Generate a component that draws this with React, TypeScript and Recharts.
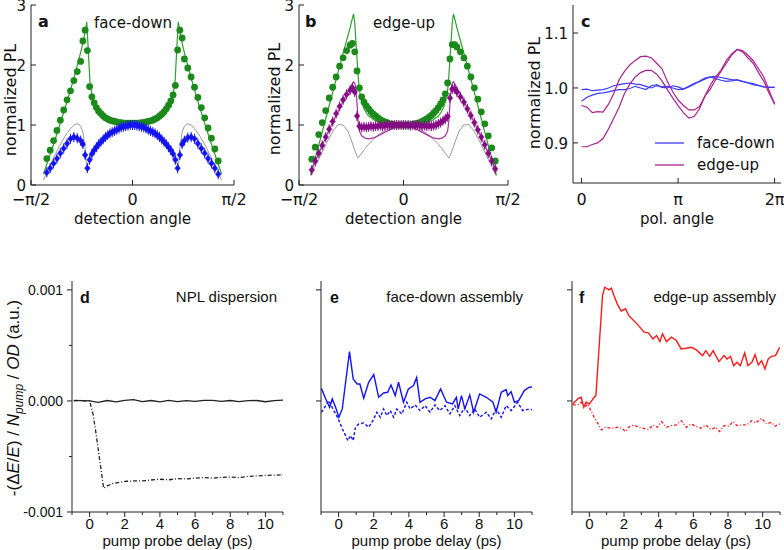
import { ComposedChart, Line, Scatter, XAxis, YAxis } from "recharts";

const TOP_FONT = "'DejaVu Sans', Verdana, sans-serif";
const BOT_FONT = "'Liberation Sans', Arial, sans-serif";
const AX = { stroke: "#222", strokeWidth: 1 };

// ---------- panel a (face-down), detection angle in degrees ----------
const aDotAngles = [-76, -73, -70, -67, -64, -61, -58, -55, -52, -49, -46, -44, -42, -40, -38, -36, -34, -32, -30, -28, -26, -24, -22, -20, -18, -16, -14, -12, -10, -8, -6, -4, -2, 0, 2, 4, 6, 8, 10, 12, 14, 16, 18, 20, 22, 24, 26, 28, 30, 32, 34, 36, 38, 40, 42, 44, 46, 49, 52, 55, 58, 61, 64, 67, 70, 73, 76];
const aGreenDots = [0.44, 0.58, 0.74, 0.91, 1.08, 1.25, 1.42, 1.57, 1.74, 1.89, 2.06, 2.40, 2.58, 2.24, 1.64, 1.47, 1.37, 1.29, 1.23, 1.19, 1.15, 1.12, 1.10, 1.08, 1.07, 1.06, 1.05, 1.04, 1.04, 1.03, 1.03, 1.03, 1.03, 1.03, 1.03, 1.03, 1.03, 1.04, 1.04, 1.05, 1.06, 1.07, 1.08, 1.10, 1.12, 1.15, 1.18, 1.22, 1.27, 1.33, 1.40, 1.50, 1.66, 2.25, 2.58, 2.45, 2.10, 1.95, 1.80, 1.63, 1.46, 1.29, 1.12, 0.95, 0.78, 0.60, 0.40];
const aBlueDots = [0.21, 0.28, 0.36, 0.44, 0.53, 0.61, 0.69, 0.77, 0.80, 0.78, 0.74, 0.68, 0.50, 0.28, 0.42, 0.52, 0.58, 0.63, 0.68, 0.72, 0.76, 0.80, 0.83, 0.86, 0.88, 0.90, 0.92, 0.94, 0.96, 0.97, 0.98, 0.99, 1.00, 1.00, 1.00, 0.99, 0.98, 0.97, 0.96, 0.94, 0.92, 0.90, 0.88, 0.86, 0.83, 0.80, 0.76, 0.72, 0.68, 0.63, 0.58, 0.52, 0.42, 0.28, 0.50, 0.68, 0.74, 0.79, 0.80, 0.77, 0.69, 0.61, 0.53, 0.44, 0.36, 0.28, 0.18];
const aGreenFitX = [-79, -75, -70, -65, -60, -55, -50, -45, -42.5, -40.6, -39.2, -37.7, -36, -34.8, -32, -28.8, -25, -21, -17, -12, -6, 0, 6, 12, 17, 21, 25, 28.8, 32, 34.8, 36, 37.7, 39.2, 40.6, 42.5, 45, 50, 55, 60, 65, 70, 75, 79];
const aGreenFitY = [0.18, 0.40, 0.68, 0.97, 1.27, 1.58, 1.92, 2.28, 2.50, 2.72, 2.25, 1.70, 1.52, 1.42, 1.30, 1.22, 1.15, 1.11, 1.08, 1.05, 1.03, 1.03, 1.03, 1.05, 1.08, 1.11, 1.15, 1.22, 1.30, 1.42, 1.52, 1.70, 2.25, 2.72, 2.50, 2.28, 1.92, 1.58, 1.27, 0.97, 0.68, 0.40, 0.18];
const aGrayFitX = [-79, -75, -70, -65, -60, -55, -51, -48.5, -46, -44, -42, -40.6, -39, -37, -35, -32, -28, -24, -20, -15, -10, -5, 0, 5, 10, 15, 20, 24, 28, 32, 35, 37, 39, 40.6, 42, 44, 46, 48.5, 51, 55, 60, 65, 70, 75, 79];
const aGrayFitY = [0.08, 0.25, 0.45, 0.64, 0.81, 0.94, 1.01, 1.02, 0.98, 0.88, 0.62, 0.28, 0.40, 0.50, 0.57, 0.65, 0.73, 0.80, 0.86, 0.92, 0.96, 0.99, 1.0, 0.99, 0.96, 0.92, 0.86, 0.80, 0.73, 0.65, 0.57, 0.50, 0.40, 0.28, 0.62, 0.88, 0.98, 1.02, 1.01, 0.94, 0.81, 0.64, 0.45, 0.25, 0.08];

// ---------- panel b (edge-up) ----------
const bDotAngles = [-79, -76, -73, -70, -67, -64, -61, -58, -55, -52, -49, -46, -44, -42, -40, -38, -36, -34, -32, -30, -28, -26, -24, -22, -20, -18, -16, -14, -12, -10, -8, -6, -4, -2, 0, 2, 4, 6, 8, 10, 12, 14, 16, 18, 20, 22, 24, 26, 28, 30, 32, 34, 36, 38, 40, 42, 44, 46, 49, 52, 55, 58, 61, 64, 67, 70, 73, 76, 79];
const bGreenDots = [0.43, 0.63, 0.84, 1.04, 1.24, 1.45, 1.63, 1.80, 1.98, 2.12, 2.24, 2.33, 2.36, 2.22, 1.90, 1.62, 1.47, 1.38, 1.32, 1.27, 1.22, 1.18, 1.15, 1.12, 1.09, 1.07, 1.05, 1.04, 1.02, 1.01, 1.0, 1.0, 1.0, 1.0, 1.0, 1.0, 1.0, 1.0, 1.01, 1.02, 1.03, 1.04, 1.06, 1.08, 1.10, 1.13, 1.16, 1.20, 1.24, 1.29, 1.35, 1.42, 1.52, 1.70, 2.10, 2.34, 2.34, 2.30, 2.22, 2.12, 1.98, 1.80, 1.62, 1.43, 1.22, 1.02, 0.82, 0.62, 0.40];
const bPurpleDots = [0.25, 0.40, 0.53, 0.66, 0.80, 0.93, 1.06, 1.19, 1.31, 1.42, 1.51, 1.58, 1.62, 1.55, 1.15, 0.98, 0.96, 0.97, 0.96, 0.97, 0.98, 0.97, 0.98, 0.98, 0.99, 0.98, 0.99, 1.0, 0.99, 1.0, 1.0, 1.0, 1.0, 1.0, 1.0, 1.0, 1.0, 0.99, 1.0, 0.99, 1.0, 0.99, 0.98, 0.99, 0.98, 0.99, 0.98, 0.99, 1.0, 1.02, 1.04, 1.07, 1.10, 1.14, 1.45, 1.60, 1.60, 1.55, 1.47, 1.38, 1.27, 1.16, 1.04, 0.92, 0.80, 0.67, 0.53, 0.40, 0.27];
const bGreenFitX = [-80, -75, -70, -65, -60, -55, -50, -46, -44, -43, -42, -41, -40, -39, -38, -36, -34, -32, -30, -25, -20, -15, -10, -5, 0, 5, 10, 15, 20, 25, 30, 32, 34, 36, 38, 39, 40, 41, 42, 43, 44, 46, 50, 55, 60, 65, 70, 75, 80];
const bGreenFitY = [0.17, 0.52, 0.88, 1.25, 1.62, 1.98, 2.34, 2.62, 2.78, 2.85, 2.70, 2.40, 2.10, 1.80, 1.58, 1.38, 1.27, 1.20, 1.15, 1.08, 1.04, 1.02, 1.01, 1.0, 1.0, 1.0, 1.01, 1.02, 1.04, 1.08, 1.15, 1.20, 1.27, 1.38, 1.58, 1.80, 2.10, 2.40, 2.70, 2.85, 2.78, 2.62, 2.34, 1.98, 1.62, 1.25, 0.88, 0.52, 0.17];
const bPurpleFitX = [-80, -75, -70, -65, -60, -55, -50, -46, -44, -43, -42, -41, -40, -39, -38, -36, -33, -30, -25, -20, -15, -10, -5, 0, 5, 10, 15, 20, 25, 30, 33, 36, 38, 39, 40, 41, 42, 43, 44, 46, 50, 55, 60, 65, 70, 75, 80];
const bPurpleFitY = [0.22, 0.44, 0.66, 0.88, 1.08, 1.28, 1.47, 1.62, 1.69, 1.72, 1.70, 1.60, 1.35, 1.05, 0.90, 0.82, 0.78, 0.77, 0.79, 0.84, 0.89, 0.94, 0.98, 1.0, 0.98, 0.94, 0.89, 0.84, 0.79, 0.77, 0.78, 0.82, 0.90, 1.05, 1.35, 1.60, 1.70, 1.72, 1.69, 1.62, 1.47, 1.28, 1.08, 0.88, 0.66, 0.44, 0.22];
const bGrayFitX = [-80, -75, -70, -65, -60, -56, -52, -48, -45, -42, -40, -39, -38, -36, -33, -30, -25, -20, -15, -10, -5, 0, 5, 10, 15, 20, 25, 30, 33, 36, 38, 39, 40, 42, 45, 48, 52, 56, 60, 65, 70, 75, 80];
const bGrayFitY = [0.15, 0.35, 0.55, 0.75, 0.92, 1.01, 1.0, 0.90, 0.75, 0.58, 0.48, 0.45, 0.48, 0.53, 0.61, 0.68, 0.78, 0.86, 0.92, 0.96, 0.99, 1.0, 0.99, 0.96, 0.92, 0.86, 0.78, 0.68, 0.61, 0.53, 0.48, 0.45, 0.48, 0.58, 0.75, 0.90, 1.0, 1.01, 0.92, 0.75, 0.55, 0.35, 0.15];

// ---------- panel c, polarisation angle in degrees ----------
const polAngles = [0, 10, 20, 30, 40, 50, 60, 70, 80, 90, 100, 110, 120, 130, 140, 150, 160, 170, 180, 190, 200, 210, 220, 230, 240, 250, 260, 270, 280, 290, 300, 310, 320, 330, 340, 350, 360];
const cBlue1 = [0.997, 0.998, 0.995, 0.996, 0.997, 1.0, 1.004, 1.006, 1.008, 1.009, 1.007, 1.006, 1.003, 1.0, 1.004, 1.002, 1.003, 1.0, 0.997, 0.998, 1.003, 1.008, 1.012, 1.018, 1.02, 1.017, 1.014, 1.012, 1.013, 1.015, 1.012, 1.009, 1.006, 1.004, 1.002, 1.001, 1.001];
const cBlue2 = [0.976, 0.983, 0.987, 0.99, 0.991, 0.993, 0.995, 0.997, 0.997, 0.999, 1.003, 1.0, 0.997, 1.004, 1.006, 1.001, 1.0, 1.004, 1.002, 0.998, 1.002, 1.007, 1.012, 1.016, 1.02, 1.021, 1.019, 1.017, 1.015, 1.014, 1.012, 1.01, 1.008, 1.005, 1.002, 1.001, 1.001];
const cPurple1 = [0.893, 0.893, 0.897, 0.900, 0.908, 0.925, 0.945, 0.965, 0.99, 1.007, 1.02, 1.028, 1.032, 1.032, 1.025, 1.013, 0.997, 0.982, 0.968, 0.955, 0.945, 0.948, 0.962, 0.985, 1.005, 1.02, 1.032, 1.05, 1.062, 1.07, 1.066, 1.055, 1.045, 1.028, 1.012, 0.99, 0.972];
const cPurple2 = [0.968, 0.965, 0.955, 0.957, 0.956, 0.97, 0.99, 1.015, 1.03, 1.042, 1.05, 1.057, 1.058, 1.055, 1.045, 1.035, 1.012, 0.993, 0.978, 0.968, 0.96, 0.96, 0.966, 0.985, 0.998, 1.015, 1.03, 1.045, 1.06, 1.07, 1.068, 1.06, 1.05, 1.035, 1.02, 0.995, 0.970];

// ---------- panels d-f, delay in ps, signal in units of 1e-3 ----------
const dSolidT = [-0.9, -0.5, 0, 0.5, 1, 1.5, 2, 2.5, 3, 3.5, 4, 4.5, 5, 5.5, 6, 6.5, 7, 7.5, 8, 8.5, 9, 9.5, 10, 10.5, 11];
const dSolid = [0.005, 0.003, 0, -0.012, 0.004, -0.008, 0.006, 0.012, -0.006, 0.004, -0.008, 0.005, -0.006, 0.003, -0.004, 0.005, 0.006, -0.003, 0.004, -0.006, 0.003, 0.004, -0.007, 0.002, 0.008];
const dDashT = [-0.9, -0.6, -0.3, 0, 0.2, 0.4, 0.6, 0.8, 1.0, 1.3, 1.6, 2, 2.5, 3, 3.5, 4, 4.5, 5, 5.5, 6, 6.5, 7, 7.5, 8, 8.5, 9, 9.5, 10, 10.5, 11];
const dDash = [0.0, 0.005, 0.0, 0.0, -0.12, -0.33, -0.56, -0.785, -0.765, -0.745, -0.735, -0.725, -0.72, -0.72, -0.712, -0.705, -0.71, -0.70, -0.702, -0.695, -0.69, -0.695, -0.688, -0.685, -0.69, -0.68, -0.675, -0.67, -0.668, -0.665];
const eSolidT = [-0.98, -0.73, -0.51, -0.36, -0.17, 0.02, 0.21, 0.40, 0.62, 0.83, 1.05, 1.21, 1.43, 1.71, 2.0, 2.28, 2.56, 2.79, 2.98, 3.22, 3.41, 3.69, 3.97, 4.26, 4.44, 4.63, 4.92, 5.20, 5.48, 5.80, 6.14, 6.48, 6.70, 6.80, 6.99, 7.18, 7.46, 7.68, 8.02, 8.40, 8.78, 8.96, 9.25, 9.53, 9.62, 9.81, 10.0, 10.24, 10.56, 10.85, 11.0];
const eSolid = [0.114, 0.018, -0.057, 0.018, -0.057, -0.147, -0.072, 0.168, 0.444, 0.198, 0.153, 0.153, 0.024, 0.168, 0.237, 0.033, 0.072, 0.078, 0.144, 0.048, 0.168, -0.012, 0.108, 0.138, 0.21, -0.012, 0.018, 0.033, 0.003, 0.108, -0.012, -0.027, 0.033, -0.072, 0.048, -0.072, 0.054, -0.102, 0.063, 0.033, -0.012, -0.102, 0.078, 0.102, 0.048, 0.084, -0.012, 0.003, 0.093, 0.123, 0.125];
const eDashT = [-0.98, -0.73, -0.55, -0.36, -0.11, 0.02, 0.21, 0.40, 0.53, 0.68, 0.83, 0.96, 1.15, 1.43, 1.71, 1.90, 2.18, 2.37, 2.56, 2.75, 2.94, 3.13, 3.31, 3.60, 3.88, 4.07, 4.35, 4.63, 4.92, 5.20, 5.48, 5.76, 6.05, 6.33, 6.61, 6.89, 7.18, 7.46, 7.74, 8.02, 8.40, 8.68, 8.96, 9.25, 9.53, 9.81, 10.19, 10.47, 10.85, 11.0];
const eDash = [-0.102, -0.042, 0.003, -0.06, -0.132, -0.177, -0.25, -0.312, -0.357, -0.312, -0.357, -0.237, -0.207, -0.198, -0.237, -0.192, -0.102, -0.147, -0.072, -0.132, -0.087, -0.147, -0.072, -0.117, -0.012, -0.072, -0.036, -0.087, -0.042, -0.102, -0.036, -0.087, -0.042, -0.117, -0.042, -0.132, -0.057, -0.132, -0.072, -0.147, -0.102, -0.162, -0.072, -0.147, -0.042, -0.087, -0.012, -0.087, -0.072, -0.08];
const fSolidT = [-0.95, -0.76, -0.63, -0.47, -0.32, -0.19, 0.0, 0.28, 0.38, 0.76, 0.89, 1.14, 1.27, 1.42, 1.61, 1.84, 2.09, 2.27, 2.37, 2.75, 3.16, 3.41, 3.67, 3.88, 4.07, 4.22, 4.45, 4.73, 5.02, 5.30, 5.59, 5.87, 6.16, 6.53, 6.72, 6.95, 7.14, 7.48, 7.77, 7.95, 8.14, 8.33, 8.52, 8.71, 8.96, 9.15, 9.38, 9.56, 9.75, 9.94, 10.13, 10.32, 10.51, 10.74, 10.98];
const fSolid = [-0.027, 0.003, 0.024, 0.033, -0.057, -0.012, -0.027, 0.033, 0.05, 0.949, 1.024, 1.0, 1.015, 0.949, 0.874, 0.81, 0.83, 0.77, 0.754, 0.694, 0.619, 0.613, 0.559, 0.589, 0.535, 0.604, 0.535, 0.574, 0.544, 0.468, 0.474, 0.483, 0.462, 0.408, 0.453, 0.402, 0.453, 0.354, 0.408, 0.378, 0.402, 0.318, 0.348, 0.318, 0.432, 0.318, 0.348, 0.417, 0.324, 0.363, 0.288, 0.378, 0.402, 0.408, 0.483];
const fDashT = [-0.95, -0.66, -0.47, -0.25, -0.09, 0.09, 0.28, 0.51, 0.70, 0.95, 1.23, 1.61, 1.89, 2.08, 2.27, 2.56, 2.84, 3.13, 3.41, 3.69, 3.92, 4.17, 4.45, 4.73, 5.02, 5.30, 5.59, 5.87, 6.16, 6.44, 6.72, 7.01, 7.29, 7.52, 7.77, 8.05, 8.28, 8.52, 8.81, 9.09, 9.38, 9.60, 9.94, 10.23, 10.51, 10.70, 10.98];
const fDash = [-0.036, -0.036, -0.012, -0.057, -0.027, -0.087, -0.147, -0.207, -0.261, -0.237, -0.246, -0.237, -0.246, -0.276, -0.237, -0.216, -0.237, -0.246, -0.258, -0.216, -0.237, -0.186, -0.237, -0.222, -0.216, -0.177, -0.237, -0.207, -0.228, -0.246, -0.216, -0.258, -0.237, -0.276, -0.222, -0.228, -0.186, -0.222, -0.216, -0.216, -0.177, -0.198, -0.156, -0.207, -0.192, -0.228, -0.207];

// ---------- ticks ----------
const detTicks = [-90, 0, 90];
const detLabels = ["\u2212\u03c0/2", "0", "\u03c0/2"];
const polTicks = [0, 180, 360];
const polLabels = ["0", "\u03c0", "2\u03c0"];
const plTicks = [0, 1, 2, 3];
const cTicks = [0.9, 1.0, 1.1];
const delayTicks = [-1, 0, 1, 2, 3, 4, 5, 6, 7, 8, 9, 10, 11];
const signalTicks = [-1, -0.5, 0, 0.5, 1];

const pts = (xs: number[], ys: number[]) => xs.map((x, i) => ({ x, y: ys[i] }));

type Side = "left" | "right" | "top" | "bottom";
// tick mark drawn by hand: len > 0 points into the plot, len < 0 points out
const makeTick =
  (side: Side, len: (v: number) => number, label: (v: number) => string | null, font: string, size: number, gap: number, vShift = "0.36em") =>
  (p: any) => {
    const { x, y, payload } = p;
    const v = payload.value;
    const L = len(v);
    const lab = label(v);
    let ln;
    let tx = x;
    let ty = y;
    let anchor: any = "middle";
    let dy = "0";
    if (side === "left") {
      ln = <line x1={x} y1={y} x2={x + L} y2={y} />;
      tx = x - gap;
      anchor = "end";
      dy = vShift;
    } else if (side === "right") {
      ln = <line x1={x} y1={y} x2={x - L} y2={y} />;
      tx = x + gap;
      anchor = "start";
      dy = vShift;
    } else if (side === "bottom") {
      ln = <line x1={x} y1={y} x2={x} y2={y - L} />;
      ty = y + gap;
    } else {
      ln = <line x1={x} y1={y} x2={x} y2={y + L} />;
      ty = y - gap;
    }
    return (
      <g stroke="#222" strokeWidth={1}>
        {ln}
        {lab != null && (
          <text x={tx} y={ty} dy={dy} textAnchor={anchor} stroke="none" fill="#111" fontFamily={font} fontSize={size}>
            {lab}
          </text>
        )}
      </g>
    );
  };

const none = () => null;
const inward = () => 5;

const topAxes = (
  xDomain: number[], xTicks: number[], xLabels: string[], xHeight: number, xGap: number,
  yDomain: number[], yTicks: number[], yLabel: (v: number) => string, yWidth: number
) => [
  <XAxis key="xb" type="number" dataKey="x" domain={xDomain} ticks={xTicks} allowDataOverflow interval={0}
    height={xHeight} tickSize={0} tickMargin={0} tickLine={false} axisLine={AX}
    tick={makeTick("bottom", inward, (v) => xLabels[xTicks.indexOf(v)] ?? null, TOP_FONT, 16, xGap)} />,
  <XAxis key="xt" xAxisId="t" orientation="top" type="number" domain={xDomain} ticks={xTicks} allowDataOverflow interval={0}
    height={0} tickSize={0} tickMargin={0} tickLine={false} axisLine={AX} tick={makeTick("top", inward, none, TOP_FONT, 16, 0)} />,
  <YAxis key="yl" type="number" dataKey="y" domain={yDomain} ticks={yTicks} allowDataOverflow interval={0}
    width={yWidth} tickSize={0} tickMargin={0} tickLine={false} axisLine={AX}
    tick={makeTick("left", inward, yLabel, TOP_FONT, 15, 5, "0.4em")} />,
  <YAxis key="yr" yAxisId="r" orientation="right" type="number" domain={yDomain} ticks={yTicks} allowDataOverflow interval={0}
    width={0} tickSize={0} tickMargin={0} tickLine={false} axisLine={AX} tick={makeTick("right", inward, none, TOP_FONT, 16, 0)} />,
];

const botAxes = (yWidth: number, yTicks: number[], labelled: boolean) => [
  <XAxis key="xb" type="number" dataKey="x" domain={[-1, 11]} ticks={delayTicks} allowDataOverflow interval={0}
    height={38} tickSize={0} tickMargin={0} tickLine={false} axisLine={AX}
    tick={makeTick("bottom", (v) => (v % 2 === 0 ? -5 : -3), (v) => (v >= 0 && v % 2 === 0 ? String(v) : null), BOT_FONT, 15, 17)} />,
  <XAxis key="xt" xAxisId="t" orientation="top" type="number" domain={[-1, 11]} allowDataOverflow height={0}
    tick={false} tickLine={false} axisLine={AX} />,
  <YAxis key="yl" type="number" dataKey="y" domain={[-1, 1.08]} ticks={yTicks} allowDataOverflow interval={0}
    width={yWidth} tickSize={0} tickMargin={0} tickLine={false} axisLine={AX}
    tick={makeTick("left", (v) => (Number.isInteger(v) ? -5 : -3), (v) => (labelled && Number.isInteger(v) ? (v / 1000).toFixed(3) : null), BOT_FONT, 14, 9)} />,
  <YAxis key="yr" yAxisId="r" orientation="right" type="number" domain={[-1, 1.08]} allowDataOverflow width={0}
    tick={false} tickLine={false} axisLine={AX} />,
];

const dotShape = (color: string) => (p: any) => <circle cx={p.cx} cy={p.cy} r={3.4} fill={color} />;
const diamondShape = (color: string) => (p: any) => (
  <g fill={color} stroke={color}>
    <path d={`M${p.cx},${p.cy - 3.4}L${p.cx + 2.8},${p.cy}L${p.cx},${p.cy + 3.4}L${p.cx - 2.8},${p.cy}Z`} strokeWidth={0.5} />
    <line x1={p.cx} x2={p.cx} y1={p.cy - 5} y2={p.cy + 5} strokeWidth={1} />
  </g>
);

const GREEN = "#1b8a1b";
const GREEN_FIT = "#2e9e2e";
const BLUE = "#1414f0";
const GRAY = "#9a9a9a";
const PURPLE = "#860c86";
const PURPLE_FIT = "#a8329f";
const C_BLUE = "#3c3cff";
const C_PURPLE = "#a8228f";
const RED = "#ff1a1a";

const fitLine = (key: string, data: any[], color: string, w = 1.2, dash?: string) => (
  <Line key={key} data={data} dataKey="y" type="linear" stroke={color} strokeWidth={w} strokeDasharray={dash}
    dot={false} activeDot={false} isAnimationActive={false} />
);

const pos = (left: number, top: number) => ({ position: "absolute" as const, left, top });

export default function App() {
  const plLabel = (v: number) => String(v);
  const cLabel = (v: number) => v.toFixed(1);
  return (
    <div style={{ position: "absolute", left: 0, top: 0, width: 784, height: 550, background: "#fff", overflow: "hidden" }}>
      {/* a */}
      <div style={pos(0, -10)}>
        <ComposedChart width={262} height={240} margin={{ top: 15, right: 28, bottom: 0, left: 0 }}>
          {topAxes([-90, 90], detTicks, detLabels, 45, 20, [0, 3], plTicks, plLabel, 31)}
          {fitLine("gray", pts(aGrayFitX, aGrayFitY), GRAY, 1)}
          <Scatter data={pts(aDotAngles, aGreenDots)} dataKey="y" fill={GREEN} shape={dotShape(GREEN)} isAnimationActive={false} />
          <Scatter data={pts(aDotAngles, aBlueDots)} dataKey="y" fill={BLUE} shape={diamondShape(BLUE)} isAnimationActive={false} />
          {fitLine("green", pts(aGreenFitX, aGreenFitY), GREEN_FIT, 1.2)}
        </ComposedChart>
      </div>
      {/* b */}
      <div style={pos(265, -10)}>
        <ComposedChart width={270} height={240} margin={{ top: 15, right: 27, bottom: 0, left: 0 }}>
          {topAxes([-90, 90], detTicks, detLabels, 45, 20, [0, 3], plTicks, plLabel, 34)}
          {fitLine("gray", pts(bGrayFitX, bGrayFitY), GRAY, 1)}
          <Scatter data={pts(bDotAngles, bGreenDots)} dataKey="y" fill={GREEN} shape={dotShape(GREEN)} isAnimationActive={false} />
          <Scatter data={pts(bDotAngles, bPurpleDots)} dataKey="y" fill={PURPLE} shape={diamondShape(PURPLE)} isAnimationActive={false} />
          {fitLine("green", pts(bGreenFitX, bGreenFitY), GREEN_FIT, 1.2)}
          {fitLine("purple", pts(bPurpleFitX, bPurpleFitY), PURPLE_FIT, 1.2)}
        </ComposedChart>
      </div>
      {/* c */}
      <div style={pos(525, -10)}>
        <ComposedChart width={259} height={240} margin={{ top: 15, right: 3, bottom: 0, left: 0 }}>
          {topAxes([-16, 372], polTicks, polLabels, 47, 22, [0.827, 1.151], cTicks, cLabel, 48)}
          {fitLine("b1", pts(polAngles, cBlue1), C_BLUE, 1.2)}
          {fitLine("b2", pts(polAngles, cBlue2), C_BLUE, 1.2)}
          {fitLine("p1", pts(polAngles, cPurple1), C_PURPLE, 1.2)}
          {fitLine("p2", pts(polAngles, cPurple2), C_PURPLE, 1.2)}
        </ComposedChart>
      </div>
      {/* d */}
      <div style={pos(0, 270)}>
        <ComposedChart width={290} height={280} margin={{ top: 11, right: 7, bottom: 0, left: 0 }}>
          {botAxes(72, signalTicks, true)}
          {fitLine("solid", pts(dSolidT, dSolid), "#222", 1.3)}
          {fitLine("dash", pts(dDashT, dDash), "#222", 1.3, "4 2 1 2")}
        </ComposedChart>
      </div>
      {/* e */}
      <div style={pos(300, 270)}>
        <ComposedChart width={240} height={280} margin={{ top: 11, right: 8, bottom: 0, left: 0 }}>
          {botAxes(21, [0, 1], false)}
          {fitLine("solid", pts(eSolidT, eSolid), BLUE, 1.4)}
          {fitLine("dash", pts(eDashT, eDash), BLUE, 1.4, "3 2")}
        </ComposedChart>
      </div>
      {/* f */}
      <div style={pos(550, 270)}>
        <ComposedChart width={234} height={280} margin={{ top: 11, right: 4, bottom: 0, left: 0 }}>
          {botAxes(22, [0, 1], false)}
          {fitLine("solid", pts(fSolidT, fSolid), RED, 1.4)}
          {fitLine("dash", pts(fDashT, fDash), RED, 1.3, "3 2 1 2")}
        </ComposedChart>
      </div>

      <svg width={784} height={550} style={{ position: "absolute", left: 0, top: 0, pointerEvents: "none" }}>
        <g fontFamily={TOP_FONT} fill="#111">
          <text x={38} y={27} fontSize={16} fontWeight="bold">a</text>
          <text x={133} y={28} fontSize={15} textAnchor="middle">face-down</text>
          <text x={305} y={27} fontSize={16} fontWeight="bold">b</text>
          <text x={404} y={28} fontSize={15} textAnchor="middle">edge-up</text>
          <text x={581} y={27} fontSize={16} fontWeight="bold">c</text>
          <text transform="translate(16,100) rotate(-90)" fontSize={16} textAnchor="middle">normalized PL</text>
          <text transform="translate(280,99) rotate(-90)" fontSize={16} textAnchor="middle">normalized PL</text>
          <text transform="translate(540,93) rotate(-90)" fontSize={16} textAnchor="middle">normalized PL</text>
          <text x={132.5} y={224} fontSize={15} textAnchor="middle">detection angle</text>
          <text x={403.5} y={224} fontSize={15} textAnchor="middle">detection angle</text>
          <text x={677} y={224} fontSize={15} textAnchor="middle">pol. angle</text>
          <line x1={655} x2={684} y1={143} y2={143} stroke={C_BLUE} strokeWidth={1.3} />
          <text x={697} y={148} fontSize={15}>face-down</text>
          <line x1={655} x2={684} y1={165} y2={165} stroke={C_PURPLE} strokeWidth={1.3} />
          <text x={697} y={170} fontSize={15}>edge-up</text>
        </g>
        <g fontFamily={BOT_FONT} fill="#111">
          <text x={80} y={303} fontSize={16} fontWeight="bold">d</text>
          <text x={277} y={302} fontSize={15} textAnchor="end">NPL dispersion</text>
          <text x={330} y={303} fontSize={16} fontWeight="bold">e</text>
          <text x={523} y={302} fontSize={15} textAnchor="end">face-down assembly</text>
          <text x={579} y={303} fontSize={16} fontWeight="bold">f</text>
          <text x={776} y={302} fontSize={15} textAnchor="end">edge-up assembly</text>
          <text x={177.5} y={546} fontSize={15} textAnchor="middle">pump probe delay (ps)</text>
          <text x={426.5} y={546} fontSize={15} textAnchor="middle">pump probe delay (ps)</text>
          <text x={676} y={546} fontSize={15} textAnchor="middle">pump probe delay (ps)</text>
          <text transform="translate(19,398) rotate(-90)" fontSize={17} textAnchor="middle">
            {"-(\u0394"}
            <tspan fontStyle="italic">E</tspan>
            {"/"}
            <tspan fontStyle="italic">E</tspan>
            {") / "}
            <tspan fontStyle="italic">N</tspan>
            <tspan fontStyle="italic" fontSize={12} dy={4}>pump</tspan>
            <tspan dy={-4}>{" / "}</tspan>
            <tspan fontStyle="italic">OD</tspan>
            {" (a.u.)"}
          </text>
        </g>
      </svg>
    </div>
  );
}
